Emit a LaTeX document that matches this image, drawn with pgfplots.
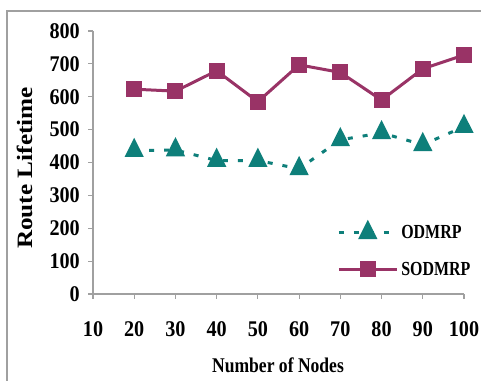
\documentclass[border=0pt]{standalone}
\usepackage{pgfplots}
\pgfplotsset{compat=1.18}
\usepackage{fontspec}
\setmainfont{Liberation Serif}
\definecolor{plum}{HTML}{993366}
\definecolor{tealc}{HTML}{0E7F7A}
\definecolor{axgray}{HTML}{A0A0A0}
\begin{document}
\begin{tikzpicture}
\useasboundingbox (0,0) rectangle (481bp,381bp);
\fill[white] (0,0) rectangle (481bp,381bp);
\draw[axgray, line width=2bp] (7bp,-2bp) -- (7bp,370bp) -- (483bp,370bp);
\begin{axis}[
  at={(93bp,87bp)}, anchor=south west,
  scale only axis, width=371bp, height=263bp,
  xmin=10, xmax=100, ymin=0, ymax=800,
  axis x line*=bottom, axis y line*=left,
  axis line style={axgray, line width=1.2bp},
  xtick={10,20,...,100}, ytick={0,100,...,800},
  tick align=outside, major tick length=5bp,
  tick style={axgray, line width=1.2bp},
  /pgf/number format/assume math mode=true,
  xticklabel={\scalebox{0.9}[1]{\pgfmathprintnumber{\tick}}},
  yticklabel={\scalebox{0.9}[1]{\pgfmathprintnumber{\tick}}},
  ticklabel style={font=\bfseries\fontsize{22.5}{24}\selectfont, inner sep=0pt},
  xticklabel style={anchor=north, yshift=-22bp},
  yticklabel style={anchor=east, xshift=-8bp},
  xlabel={\scalebox{0.84}[1]{Number of Nodes}},
  xlabel style={font=\bfseries\fontsize{21}{24}\selectfont, inner sep=0pt, at={(axis description cs:0.4987,-0.2966)}, anchor=base},
  ylabel={\scalebox{1.15}[1]{Route Lifetime}},
  ylabel style={font=\bfseries\fontsize{22}{24}\selectfont, inner sep=0pt, at={(axis description cs:-0.1644,0.479)}, anchor=base, rotate=0},
  clip=false,
  legend cell align=left,
  legend style={draw=none, fill=none, at={(0.658,0.27)}, anchor=north west,
    font=\bfseries\fontsize{20}{22}\selectfont, inner sep=0pt, row sep=22bp, column sep=3bp,
    nodes={inner sep=0pt}},
  legend image code/.code={\draw[#1,mark repeat=2,mark phase=2] plot coordinates {(0bp,0bp)(29bp,0bp)(58bp,0bp)};},
]
\addplot[tealc, line width=3bp, dash pattern=on 5bp off 10bp, mark=triangle*, mark size=8.3bp, mark options={solid, yscale=1.15, fill=tealc}]
  coordinates {(20,436)(30,438)(40,406)(50,406)(60,381)(70,469)(80,490)(90,454)(100,509)};
\addlegendentry{\scalebox{0.8}[1]{ODMRP}}
\addplot[plum, line width=3bp, mark=square*, mark size=6.5bp, mark options={solid, fill=plum}]
  coordinates {(20,623)(30,617)(40,679)(50,585)(60,697)(70,674)(80,590)(90,685)(100,727)};
\addlegendentry{\scalebox{0.8}[1]{SODMRP}}
\end{axis}
\end{tikzpicture}
\end{document}
